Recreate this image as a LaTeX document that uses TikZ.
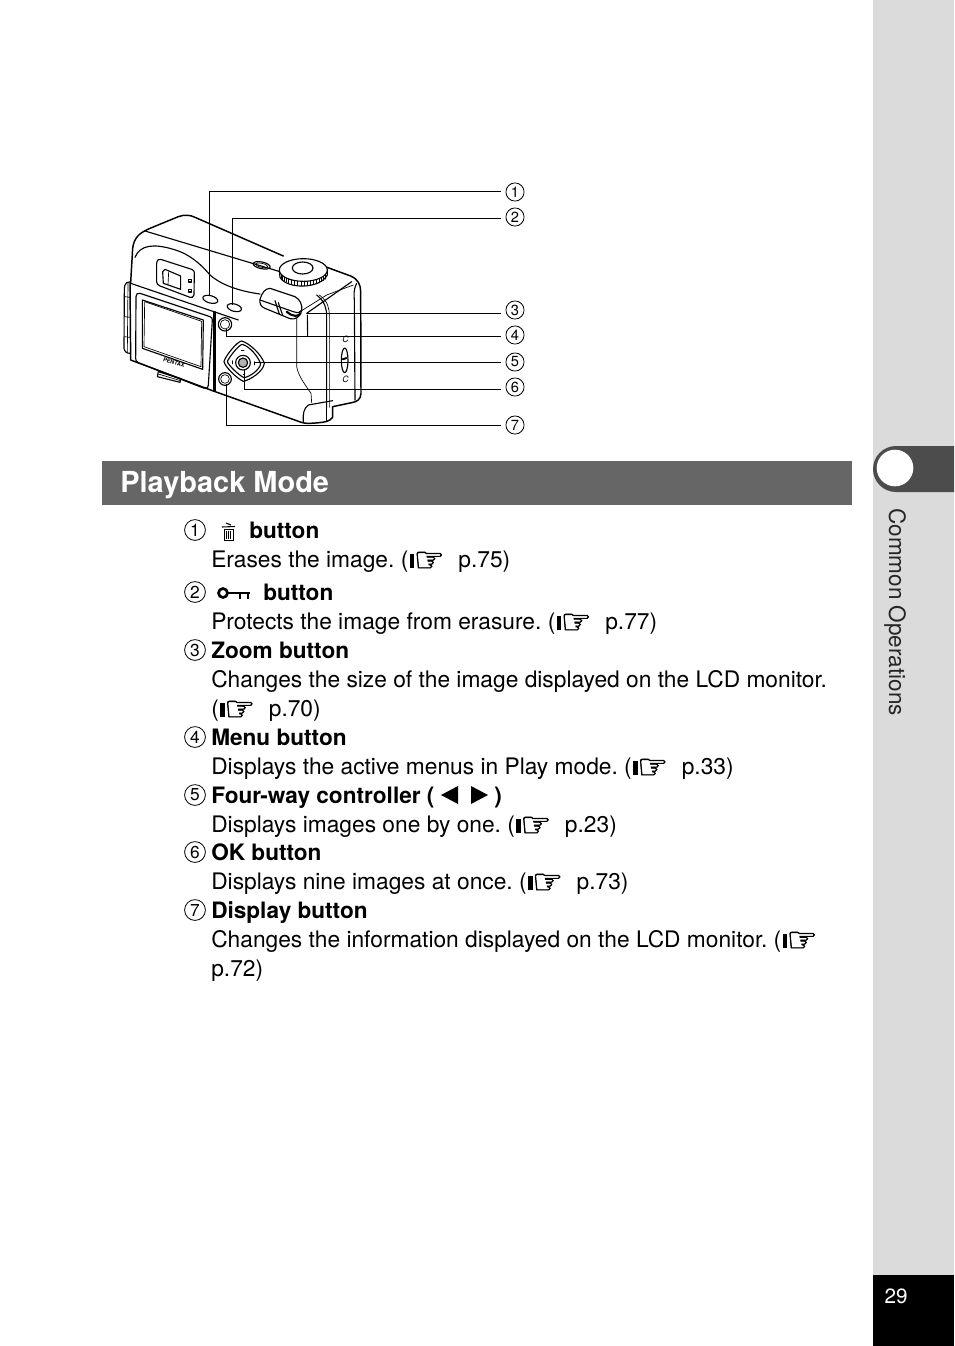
\documentclass[tikz,border=0pt]{standalone}
\usepackage{fontspec}
\setmainfont{TeX Gyre Heros}
\newfontfamily\djv[FakeBold=1.6]{DejaVu Sans}
\usetikzlibrary{calc}
\newcommand{\handicon}{\makebox[27pt][c]{\hspace{1.5pt}\rule[-1pt]{3.5pt}{11pt}\hspace{-0.5pt}\raisebox{-3.5pt}{\djv\fontsize{26}{26}\selectfont ☞}}}
\tikzset{
  txt/.style={anchor=base west,inner sep=0pt,font=\fontsize{17.07}{20}\selectfont},
  ttl/.style={txt,font=\fontsize{16.95}{20}\selectfont\bfseries},
  num/.style={circle,draw=black,line width=0.6pt,inner sep=0pt,minimum size=15.6pt,font=\fontsize{13}{13}\selectfont},
  lab/.style={num,minimum size=13.6pt,font=\fontsize{11}{11}\selectfont},
  leader/.style={draw=black,line width=0.7pt},
  cam/.style={draw=black,line width=0.85pt,line join=round,line cap=round},
  camthin/.style={draw=black,line width=0.5pt,line join=round,line cap=round},
}
\begin{document}
\frenchspacing
\begin{tikzpicture}[x=0.75pt,y=-0.75pt]
\useasboundingbox (0,0) rectangle (954,1346);
% sidebar
\fill[fill=white] (0,0) rectangle (954,1346);
\fill[fill=black!14] (873,0) rectangle (954,1346);
\fill[fill=black] (873,1275) rectangle (954,1346);
\fill[fill=black!70] (954,446) -- (896,446) arc[start angle=270,end angle=90,radius=23] -- (954,492) -- cycle;
\fill[fill=white] (895,468) circle[radius=18.3];
\node[anchor=center,inner sep=0pt,text=white,font=\fontsize{15.5}{18}\selectfont] (pg) at (896,1296) {29};
\node[rotate=-90,anchor=base west,inner sep=0pt,font=\fontsize{16.9}{18}\selectfont,text=black!85] (side) at (889,508) {Common Operations};
% heading
\fill[fill=black!60] (102,461) rectangle (852,505);
\node[anchor=base west,inner sep=0pt,text=white,font=\fontsize{21.7}{26}\selectfont\bfseries] (head) at (120,492) {Playback Mode};
% camera (coordinates are 3x zoom of the region starting at 110,180)
\begin{scope}[shift={(110,180)},x=0.25pt,y=-0.25pt]
  % grip tabs
  \path[cam] (62,305) -- (50,308) .. controls (45,312) and (43,318) .. (43,330) -- (42,505) .. controls (44,515) and (50,520) .. (60,520);
  \path[camthin] (45,350) -- (60,352) (44,410) -- (60,412) (44,470) -- (60,472) (54,308) -- (52,516);
  % outer body
  \path[cam,line width=1.1pt] (62,308) -- (68,205) .. controls (72,175) and (85,160) .. (120,145) -- (205,110) .. controls (225,103) and (240,105) .. (255,112) -- (520,228);
  \path[cam,line width=1.1pt] (640,258) -- (722,288) .. controls (745,298) and (752,315) .. (752,335) -- (753,640) .. controls (752,660) and (740,665) .. (725,668) -- (668,680) -- (668,712) .. controls (660,725) and (640,728) .. (600,730) .. controls (585,731) and (575,728) .. (560,722) -- (310,633) -- (62,540) -- (60,308);
  \path[cam] (105,153) -- (510,275);
  \path[cam] (75,232) .. controls (90,195) and (130,190) .. (190,208) .. controls (240,222) and (275,255) .. (300,285) .. controls (340,320) and (400,335) .. (450,342);
  % right part
  \path[cam] (590,400) -- (725,305);
  \path[camthin] (570,395) -- (650,345) -- (730,315);
  \path[cam] (740,310) .. controls (730,330) and (732,345) .. (733,360) -- (735,660);
  \path[cam] (620,345) .. controls (645,365) and (650,385) .. (650,410) -- (650,682);
  \path[camthin] (628,345) .. controls (655,365) and (658,385) .. (658,410) -- (658,682);
  \path[cam] (592,405) -- (593,470);
  \path[camthin] (560,415) -- (560,560) .. controls (565,590) and (590,620) .. (603,640) -- (605,668);
  \path[cam] (580,725) .. controls (578,700) and (582,685) .. (595,675) -- (668,662);
  \path[camthin] (650,680) -- (650,725);
  % front panel seams
  \path[cam] (62,310) -- (385,420);
  \path[camthin] (310,395) -- (310,635);
  \path[cam] (315,395) -- (315,632);
  % LCD
  \path[cam] (90,340) -- (300,410) .. controls (305,412) and (307,415) .. (307,420) -- (295,615) .. controls (294,625) and (288,626) .. (280,624) -- (85,548) .. controls (78,545) and (77,540) .. (77,535) -- (78,350) .. controls (78,342) and (83,338) .. (90,340) -- cycle;
  \path[cam] (97,360) -- (280,420) -- (278,568) -- (97,505) -- cycle;
  \path[camthin] (104,365) -- (275,424) -- (273,560) -- (102,500) -- cycle;
  \node[rotate=-17,inner sep=0pt,font=\fontsize{4.2}{5}\selectfont\bfseries] (brand) at (192,548) {PENTAX};
  \path[cam] (145,575) -- (212,596) -- (210,607) -- (142,590) -- cycle;
  \path[camthin] (145,582) -- (211,602);
  % viewfinder
  \path[cam] (152,238) -- (245,268) .. controls (252,270) and (253,275) .. (253,280) -- (252,345) .. controls (250,352) and (245,354) .. (240,352) -- (150,318) .. controls (142,315) and (140,310) .. (140,305) -- (140,250) .. controls (141,240) and (146,236) .. (152,238) -- cycle;
  \path[cam] (165,268) -- (212,288) -- (212,328) -- (160,310) -- (158,275) -- cycle;
  \path[camthin] (176,276) -- (174,314);
  \path[cam] (236,298) rectangle (245,306) (236,328) rectangle (245,336);
  % buttons
  \path[cam] (301,358) ellipse [x radius=23,y radius=11,rotate=-15];
  \path[cam] (373,383) ellipse [x radius=22,y radius=11,rotate=-15];
  \path[cam] (455,256) ellipse [x radius=26,y radius=10,rotate=-12];
  \path[camthin] (455,256) ellipse [x radius=19,y radius=6,rotate=-12];
  % dial
  \fill[fill=white] (508,270) -- (510,295) .. controls (530,330) and (630,330) .. (652,285) -- (652,270) -- cycle;
  \path[cam] (508,270) -- (510,292) .. controls (530,328) and (630,328) .. (652,285) -- (652,268);
  \foreach \a in {0,8,...,140} {\path[camthin] ({580+71*cos(\a+200+0)},{270-33*sin(\a+200)}) -- ++(0,14);}
  \path[cam,fill=white] (580,270) ellipse [x radius=72,y radius=34];
  \path[cam] (578,264) ellipse [x radius=31,y radius=18];
  % zoom lever
  \path[cam,fill=white] (450,358) .. controls (455,340) and (465,325) .. (480,325) -- (555,350) .. controls (570,358) and (578,375) .. (575,392) .. controls (570,412) and (555,420) .. (540,416) -- (465,385) .. controls (452,380) and (448,370) .. (450,358) -- cycle;
  \path[cam] (450,360) -- (550,395) .. controls (565,400) and (572,398) .. (575,390);
  \path[cam] (495,362) -- (508,402);
  \path[cam] (505,368) -- (518,406);
  \path[cam,line width=1.6pt] (530,395) .. controls (550,412) and (565,410) .. (572,400);
  % menu, display
  \path[cam] (345,433) circle[radius=20];
  \path[camthin] (345,433) circle[radius=14];
  \path[cam] (345,597) circle[radius=19];
  \path[camthin] (345,597) circle[radius=13];
  % 4-way controller
  \path[cam] (342,545) .. controls (345,530) and (380,485) .. (395,483) .. controls (420,490) and (455,525) .. (463,550) .. controls (460,575) and (420,600) .. (400,604) .. controls (380,595) and (345,560) .. (342,545) -- cycle;
  \path[cam] (352,545) .. controls (355,535) and (385,495) .. (397,493) .. controls (420,500) and (445,530) .. (452,552) .. controls (448,570) and (420,590) .. (402,593) .. controls (385,585) and (355,555) .. (352,545) -- cycle;
  \path[cam] (399,548) circle[radius=22];
  \path[cam,fill=black!30] (399,548) circle[radius=14];
  \path[camthin] (394,512) -- (402,512) (432,545) -- (432,555) (366,542) -- (366,552) (400,582) -- (404,582);
  % switch
  \path[cam] (704,541) ellipse [x radius=10,y radius=37];
  \path[cam,line width=1.4pt] (698,538) -- (710,534);
\end{scope}
\node[inner sep=0pt,font=\fontsize{6.5}{7}\selectfont\itshape] (sc2) at (345.5,339) {C};
\node[inner sep=0pt,font=\fontsize{6.5}{7}\selectfont\itshape] (sc3) at (345.5,379) {C};
% leader labels
\node[lab] (n1) at (515,192) {1};
\node[lab] (n2) at (515,217) {2};
\node[lab] (n3) at (515,310) {3};
\node[lab] (n4) at (515,335) {4};
\node[lab] (n5) at (515,362) {5};
\node[lab] (n6) at (515,387) {6};
\node[lab] (n7) at (515,425) {7};
\coordinate (t1) at (209.5,295);
\coordinate (t2) at (232.5,305);
\coordinate (t3) at (307,313);
\coordinate (t4) at (226,329);
\coordinate (t5) at (254,362);
\coordinate (t6) at (244.5,370);
\coordinate (t7) at (226,384);
\path[leader] ($(n1.west)+(-5,-1)$) -| (t1);
\path[leader] ($(n2.west)+(-5,1)$) -| (t2);
\path[leader] ($(n3.west)+(-5,3)$) -- (t3);
\path[leader] ($(n4.west)+(-5,1)$) -| (t4);
\path[leader] ($(n5.west)+(-5,0)$) -- (t5);
\path[leader] ($(n6.west)+(-5,2)$) -| (t6);
\path[leader] ($(n7.west)+(-5,0)$) -| (t7);
% list
\node[num] (c1) at (195,530) {1};
\node[num] (c2) at (195,592) {2};
\node[num] (c3) at (195,650) {3};
\node[num] (c4) at (195,737) {4};
\node[num] (c5) at (195,795) {5};
\node[num] (c6) at (195,852) {6};
\node[num] (c7) at (195,910) {7};
% trash icon
\path[draw=black,line width=0.6pt] (224,529) -- (224,540) -- (233,540) -- (233,529) -- cycle;
\path[draw=black,line width=0.5pt] (226.5,531) -- (226.5,539) (228.5,531) -- (228.5,539) (230.5,531) -- (230.5,539);
\path[draw=black,line width=0.8pt] (222,527) -- (235,526.5) (226,523) -- (231,525);
\node[ttl] (l1) at (249,538) {button};
\node[txt] (d1) at (211,567) {Erases the image. (\handicon\hspace{10.5pt}p.75)};
% key icon
\path[draw=black,line width=2pt] (223,593) circle[radius=4.5];
\path[draw=black,line width=2.2pt] (228,593) -- (250,593);
\path[draw=black,line width=1.8pt] (240,593) -- (240,599) (248,593) -- (248,599);
\node[ttl] (l2) at (263,600) {button};
\node[txt] (d2) at (211,629) {Protects the image from erasure. (\handicon\hspace{10.5pt}p.77)};
\node[ttl] (l3) at (211,658) {Zoom button};
\node[txt] (d3) at (211,687) {Changes the size of the image displayed on the LCD monitor.};
\node[txt] (d3b) at (211,716) {(\handicon\hspace{10.5pt}p.70)};
\node[ttl] (l4) at (211,745) {Menu button};
\node[txt] (d4) at (211,774) {Displays the active menus in Play mode. (\handicon\hspace{10.5pt}p.33)};
\node[ttl] (l5) at (211,803) {Four-way controller (};
\fill[fill=black] (441,795) -- (458,786) -- (458,804) -- cycle;
\fill[fill=black] (488,795) -- (471,786) -- (471,804) -- cycle;
\node[ttl] (l5b) at (494,803) {)};
\node[txt] (d5) at (211,832) {Displays images one by one. (\handicon\hspace{10.5pt}p.23)};
\node[ttl] (l6) at (211,860) {OK button};
\node[txt] (d6) at (211,889) {Displays nine images at once. (\handicon\hspace{10.5pt}p.73)};
\node[ttl] (l7) at (211,918) {Display button};
\node[txt] (d7) at (211,947) {Changes the information displayed on the LCD monitor. (\handicon};
\node[txt] (d7b) at (211,976) {p.72)};
\end{tikzpicture}
\end{document}
